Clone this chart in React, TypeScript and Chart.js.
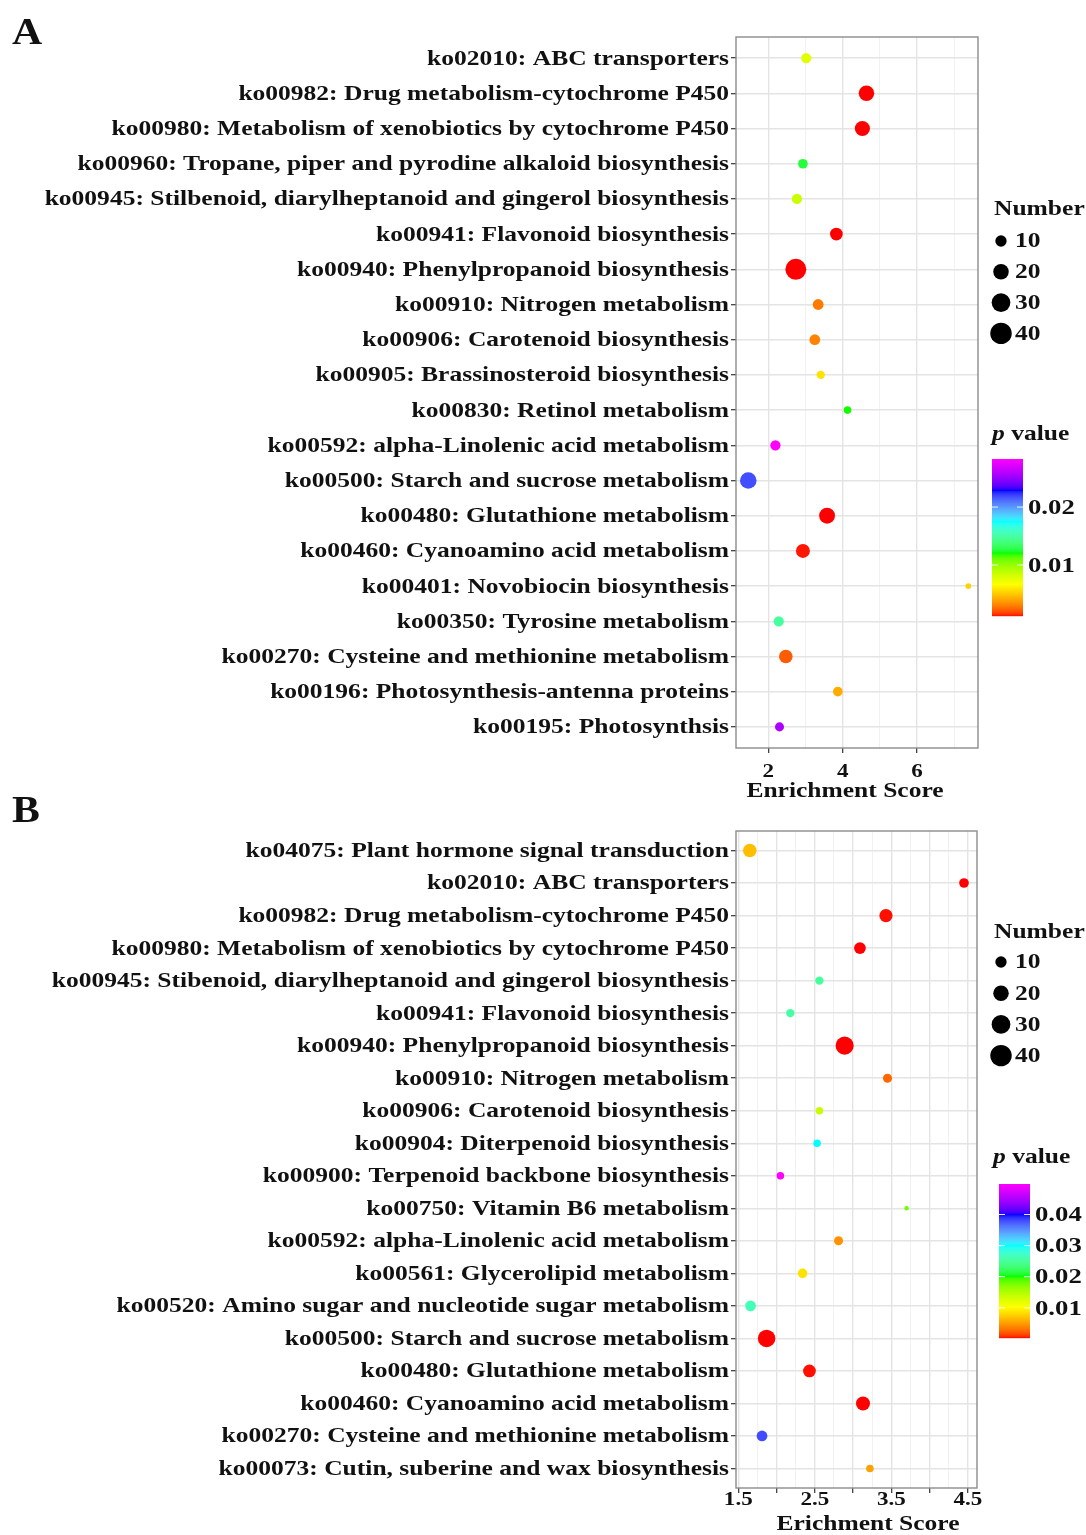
import React, { useEffect, useRef } from 'react';
import { Chart, registerables } from 'chart.js';

Chart.register(...registerables);

// ---------------- DATA ----------------
const pathwaysA = [
  'ko02010: ABC transporters',
  'ko00982: Drug metabolism-cytochrome P450',
  'ko00980: Metabolism of xenobiotics by cytochrome P450',
  'ko00960: Tropane, piper and pyrodine alkaloid biosynthesis',
  'ko00945: Stilbenoid, diarylheptanoid and gingerol biosynthesis',
  'ko00941: Flavonoid biosynthesis',
  'ko00940: Phenylpropanoid biosynthesis',
  'ko00910: Nitrogen metabolism',
  'ko00906: Carotenoid biosynthesis',
  'ko00905: Brassinosteroid biosynthesis',
  'ko00830: Retinol metabolism',
  'ko00592: alpha-Linolenic acid metabolism',
  'ko00500: Starch and sucrose metabolism',
  'ko00480: Glutathione metabolism',
  'ko00460: Cyanoamino acid metabolism',
  'ko00401: Novobiocin biosynthesis',
  'ko00350: Tyrosine metabolism',
  'ko00270: Cysteine and methionine metabolism',
  'ko00196: Photosynthesis-antenna proteins',
  'ko00195: Photosynthsis',
];
const enrichA = [3.02, 4.64, 4.53, 2.93, 2.77, 3.83, 2.74, 3.34, 3.25, 3.41, 4.13, 2.19, 1.46, 3.58, 2.93, 7.38, 2.28, 2.47, 3.87, 2.3];
const countA = [8, 20, 19, 7, 8, 13, 38, 9, 9, 5, 4, 8, 23, 21, 16, 2, 8, 15, 7, 6];
const pValueA = [0.0077, 0.0012, 0.0012, 0.0126, 0.0085, 0.0012, 0.0012, 0.0029, 0.0031, 0.0058, 0.012, 0.0283, 0.0218, 0.0012, 0.0013, 0.0053, 0.0148, 0.0022, 0.0042, 0.0256];

const pathwaysB = [
  'ko04075: Plant hormone signal transduction',
  'ko02010: ABC transporters',
  'ko00982: Drug metabolism-cytochrome P450',
  'ko00980: Metabolism of xenobiotics by cytochrome P450',
  'ko00945: Stibenoid, diarylheptanoid and gingerol biosynthesis',
  'ko00941: Flavonoid biosynthesis',
  'ko00940: Phenylpropanoid biosynthesis',
  'ko00910: Nitrogen metabolism',
  'ko00906: Carotenoid biosynthesis',
  'ko00904: Diterpenoid biosynthesis',
  'ko00900: Terpenoid backbone biosynthesis',
  'ko00750: Vitamin B6 metabolism',
  'ko00592: alpha-Linolenic acid metabolism',
  'ko00561: Glycerolipid metabolism',
  'ko00520: Amino sugar and nucleotide sugar metabolism',
  'ko00500: Starch and sucrose metabolism',
  'ko00480: Glutathione metabolism',
  'ko00460: Cyanoamino acid metabolism',
  'ko00270: Cysteine and methionine metabolism',
  'ko00073: Cutin, suberine and wax biosynthesis',
];
const enrichB = [1.65, 4.45, 3.43, 3.09, 2.56, 2.18, 2.89, 3.45, 2.56, 2.53, 2.05, 3.7, 2.81, 2.34, 1.66, 1.87, 2.43, 3.13, 1.81, 3.22];
const countB = [15, 7, 14, 11, 5, 5, 28, 6, 4, 4, 4, 1, 6, 7, 9, 26, 13, 16, 9, 4];
const pValueB = [0.0067, 0.0003, 0.0004, 0.0003, 0.025, 0.0255, 0.0003, 0.0026, 0.0137, 0.03, 0.0498, 0.0181, 0.0045, 0.0087, 0.0265, 0.0003, 0.0004, 0.0003, 0.038, 0.0053];

const xMajorA = [2, 4, 6];
const xMinorA = [3, 5, 7];
const xLabelsA = [2, 4, 6];
const xMajorB = [1.5, 2, 2.5, 3, 3.5, 4, 4.5];
const xMinorB = [1.75, 2.25, 2.75, 3.25, 3.75, 4.25];
const xLabelsB = [1.5, 2.5, 3.5, 4.5];
const sizeLegend = [10, 20, 30, 40];
const barTicksA = [0.01, 0.02];
const barTicksB = [0.01, 0.02, 0.03, 0.04];
const rainbowStops = ['#FF0000', '#FFFF00', '#00FF00', '#00FFFF', '#0000FF', '#FF00FF'];

// ---------------- HELPERS ----------------
const W = 1086;
const H = 1535;
const FONT = '"Liberation Serif", "Times New Roman", serif';
const SX = 1.215;

function sizeOf(n: number) {
  return 0.6 + 1.6 * Math.sqrt(n);
}

function hexToRgb(h: string) {
  return [parseInt(h.slice(1, 3), 16), parseInt(h.slice(3, 5), 16), parseInt(h.slice(5, 7), 16)];
}
function toLin(c: number) {
  c /= 255;
  return c <= 0.04045 ? c / 12.92 : Math.pow((c + 0.055) / 1.055, 2.4);
}
function fromLin(c: number) {
  const v = c <= 0.0031308 ? 12.92 * c : 1.055 * Math.pow(Math.max(c, 0), 1 / 2.4) - 0.055;
  return Math.round(Math.max(0, Math.min(1, v)) * 255);
}
function rgbToLab(rgb: number[]) {
  const R = toLin(rgb[0]), G = toLin(rgb[1]), B = toLin(rgb[2]);
  const X = (0.4124 * R + 0.3576 * G + 0.1805 * B) / 0.95047;
  const Y = 0.2126 * R + 0.7152 * G + 0.0722 * B;
  const Z = (0.0193 * R + 0.1192 * G + 0.9505 * B) / 1.08883;
  const f = (t: number) => (t > 0.008856 ? Math.cbrt(t) : 7.787 * t + 16 / 116);
  return [116 * f(Y) - 16, 500 * (f(X) - f(Y)), 200 * (f(Y) - f(Z))];
}
function labToRgb(lab: number[]) {
  const fy = (lab[0] + 16) / 116;
  const fx = fy + lab[1] / 500;
  const fz = fy - lab[2] / 200;
  const inv = (t: number) => (t * t * t > 0.008856 ? t * t * t : (t - 16 / 116) / 7.787);
  const X = 0.95047 * inv(fx), Y = inv(fy), Z = 1.08883 * inv(fz);
  const R = 3.2406 * X - 1.5372 * Y - 0.4986 * Z;
  const G = -0.9689 * X + 1.8758 * Y + 0.0415 * Z;
  const B = 0.0557 * X - 0.204 * Y + 1.057 * Z;
  return [fromLin(R), fromLin(G), fromLin(B)];
}
const labStops = rainbowStops.map((h) => rgbToLab(hexToRgb(h)));
function rampColor(f: number) {
  const t = Math.max(0, Math.min(1, f)) * (labStops.length - 1);
  const i = Math.min(labStops.length - 2, Math.floor(t));
  const u = t - i;
  const a = labStops[i], b = labStops[i + 1];
  const rgb = labToRgb([a[0] + (b[0] - a[0]) * u, a[1] + (b[1] - a[1]) * u, a[2] + (b[2] - a[2]) * u]);
  return `rgb(${rgb[0]},${rgb[1]},${rgb[2]})`;
}

function drawText(ctx: CanvasRenderingContext2D, text: string, x: number, y: number, size: number, align: CanvasTextAlign = 'left', baseline: CanvasTextBaseline = 'middle', italic = false, sx = SX) {
  ctx.save();
  ctx.font = `${italic ? 'italic ' : ''}bold ${size}px ${FONT}`;
  ctx.textAlign = align;
  ctx.textBaseline = baseline;
  ctx.fillStyle = '#111';
  ctx.translate(x, y);
  ctx.scale(sx, 1);
  ctx.fillText(text, 0, 0);
  ctx.restore();
}
function textW(ctx: CanvasRenderingContext2D, text: string, size: number, italic = false) {
  ctx.save();
  ctx.font = `${italic ? 'italic ' : ''}bold ${size}px ${FONT}`;
  const w = ctx.measureText(text).width * SX;
  ctx.restore();
  return w;
}

// ---------------- PANELS ----------------
const panels = [
  {
    id: 'A',
    letterY: 44,
    labels: pathwaysA, x: enrichA, n: countA, p: pValueA,
    xMin: 1.13, xMax: 7.64,
    major: xMajorA, minor: xMinorA, xLabels: xLabelsA,
    title: 'Enrichment Score', titleX: 845, titleY: 797, tickY: 777,
    area: { left: 736, right: 978, top: 37, bottom: 748 },
    leg: { numY: 210, itemY0: 241, itemStep: 30.8, pX: 992, pY: 435, barX: 992, barTop: 459, barBottom: 616, barTicks: barTicksA },
  },
  {
    id: 'B',
    letterY: 822,
    labels: pathwaysB, x: enrichB, n: countB, p: pValueB,
    xMin: 1.47, xMax: 4.62,
    major: xMajorB, minor: xMinorB, xLabels: xLabelsB,
    title: 'Erichment Score', titleX: 868, titleY: 1530, tickY: 1505,
    area: { left: 736, right: 977, top: 831, bottom: 1488 },
    leg: { numY: 933, itemY0: 962, itemStep: 31.2, pX: 993, pY: 1158, barX: 999, barTop: 1184, barBottom: 1338, barTicks: barTicksB },
  },
];

type Panel = typeof panels[number];

function makeChart(canvas: HTMLCanvasElement, P: Panel) {
  const pMin = Math.min(...P.p);
  const pMax = Math.max(...P.p);
  const frac = (v: number) => (v - pMin) / (pMax - pMin);
  const xAxisH = 40;
  const isMajor = (v: number) => P.major.some((m) => Math.abs(m - v) < 1e-6);

  const decor = {
    id: 'decor' + P.id,
    afterDatasetsDraw(chart: any) {
      const { ctx, chartArea: a } = chart;
      ctx.save();
      ctx.strokeStyle = '#8c8c8c';
      ctx.lineWidth = 1.4;
      ctx.strokeRect(a.left, a.top, a.right - a.left, a.bottom - a.top);
      ctx.restore();
    },
    afterDraw(chart: any) {
      const ctx: CanvasRenderingContext2D = chart.ctx;
      const xs = chart.scales.x;
      const ys = chart.scales.y;
      // panel letter
      drawText(ctx, P.id, 12, P.letterY, 38, 'left', 'alphabetic', false, 1.1);
      // y labels
      P.labels.forEach((lab, i) => {
        drawText(ctx, lab, P.area.left - 7, ys.getPixelForValue(i) + 1, 21, 'right', 'middle');
      });
      // x tick labels
      P.xLabels.forEach((v) => {
        drawText(ctx, String(v), xs.getPixelForValue(v), P.tickY, 19, 'center', 'alphabetic');
      });
      // x title
      drawText(ctx, P.title, P.titleX, P.titleY, 21, 'center', 'alphabetic');

      // size legend
      const L = P.leg;
      drawText(ctx, 'Number', 994, L.numY, 21, 'left', 'middle');
      sizeLegend.forEach((n, i) => {
        const y = L.itemY0 + i * L.itemStep;
        ctx.save();
        ctx.fillStyle = '#000';
        ctx.beginPath();
        ctx.arc(1001, y, sizeOf(n), 0, Math.PI * 2);
        ctx.fill();
        ctx.restore();
        drawText(ctx, String(n), 1015, y + 1, 21, 'left', 'middle');
      });

      // p value title
      const pw = textW(ctx, 'p', 21, true);
      drawText(ctx, 'p', L.pX, L.pY, 21, 'left', 'middle', true);
      drawText(ctx, ' value', L.pX + pw, L.pY, 21, 'left', 'middle');

      // colour bar
      const bw = 31;
      const hgt = L.barBottom - L.barTop;
      for (let k = 0; k < hgt; k++) {
        const f = 1 - (k + 0.5) / hgt;
        ctx.fillStyle = rampColor(f);
        ctx.fillRect(L.barX, L.barTop + k, bw, 1.2);
      }
      L.barTicks.forEach((t) => {
        const y = L.barBottom - frac(t) * hgt;
        ctx.save();
        ctx.strokeStyle = 'rgba(255,255,255,0.9)';
        ctx.lineWidth = 1;
        ctx.beginPath();
        ctx.moveTo(L.barX, y); ctx.lineTo(L.barX + 6, y);
        ctx.moveTo(L.barX + bw - 6, y); ctx.lineTo(L.barX + bw, y);
        ctx.stroke();
        ctx.restore();
        drawText(ctx, t.toFixed(2), L.barX + bw + 5, y + 1, 22, 'left', 'middle');
      });
    },
  };

  return new Chart(canvas, {
    type: 'scatter',
    data: {
      datasets: [
        {
          data: P.x.map((x, i) => ({ x, y: i })),
          pointRadius: (c: any) => sizeOf(P.n[c.dataIndex]),
          pointHoverRadius: (c: any) => sizeOf(P.n[c.dataIndex]),
          pointBackgroundColor: (c: any) => rampColor(frac(P.p[c.dataIndex])),
          pointBorderWidth: 0,
          pointBorderColor: 'rgba(0,0,0,0)',
        },
      ],
    },
    options: {
      animation: false,
      responsive: false,
      maintainAspectRatio: false,
      devicePixelRatio: 1,
      events: [],
      layout: {
        padding: { left: 0, top: P.area.top, right: W - P.area.right, bottom: H - P.area.bottom - xAxisH },
      },
      plugins: { legend: { display: false }, tooltip: { enabled: false } },
      scales: {
        x: {
          type: 'linear',
          min: P.xMin,
          max: P.xMax,
          afterBuildTicks: (s: any) => {
            s.ticks = [...P.major, ...P.minor].sort((u, v) => u - v).map((v) => ({ value: v }));
          },
          afterFit: (s: any) => {
            s.height = xAxisH;
          },
          ticks: { display: false },
          border: { display: false },
          grid: {
            color: (c: any) => (isMajor(c.tick.value) ? '#e4e4e4' : '#efefef'),
            lineWidth: (c: any) => (isMajor(c.tick.value) ? 1.4 : 0.9),
            drawTicks: true,
            tickLength: 5,
            tickWidth: 1.2,
            tickColor: (c: any) => (isMajor(c.tick.value) ? '#333' : 'rgba(0,0,0,0)'),
          },
        },
        y: {
          type: 'linear',
          min: -0.6,
          max: P.labels.length - 0.4,
          reverse: true,
          afterBuildTicks: (s: any) => {
            s.ticks = P.labels.map((_, i) => ({ value: i }));
          },
          afterFit: (s: any) => {
            s.width = P.area.left;
          },
          ticks: { display: false },
          border: { display: false },
          grid: {
            color: '#e4e4e4',
            lineWidth: 1.4,
            drawTicks: true,
            tickLength: 5,
            tickWidth: 1.2,
            tickColor: '#333',
          },
        },
      },
    } as any,
    plugins: [decor],
  });
}

export default function App() {
  const refA = useRef<HTMLCanvasElement>(null);
  const refB = useRef<HTMLCanvasElement>(null);

  useEffect(() => {
    const charts: Chart[] = [];
    if (refA.current) charts.push(makeChart(refA.current, panels[0]));
    if (refB.current) charts.push(makeChart(refB.current, panels[1]));
    return () => charts.forEach((c) => c.destroy());
  }, []);

  const cs: React.CSSProperties = { position: 'absolute', left: 0, top: 0, width: W, height: H };
  return (
    <div style={{ position: 'absolute', left: 0, top: 0, width: W, height: H, background: '#fff', overflow: 'hidden' }}>
      <canvas ref={refA} width={W} height={H} style={cs} />
      <canvas ref={refB} width={W} height={H} style={cs} />
    </div>
  );
}
